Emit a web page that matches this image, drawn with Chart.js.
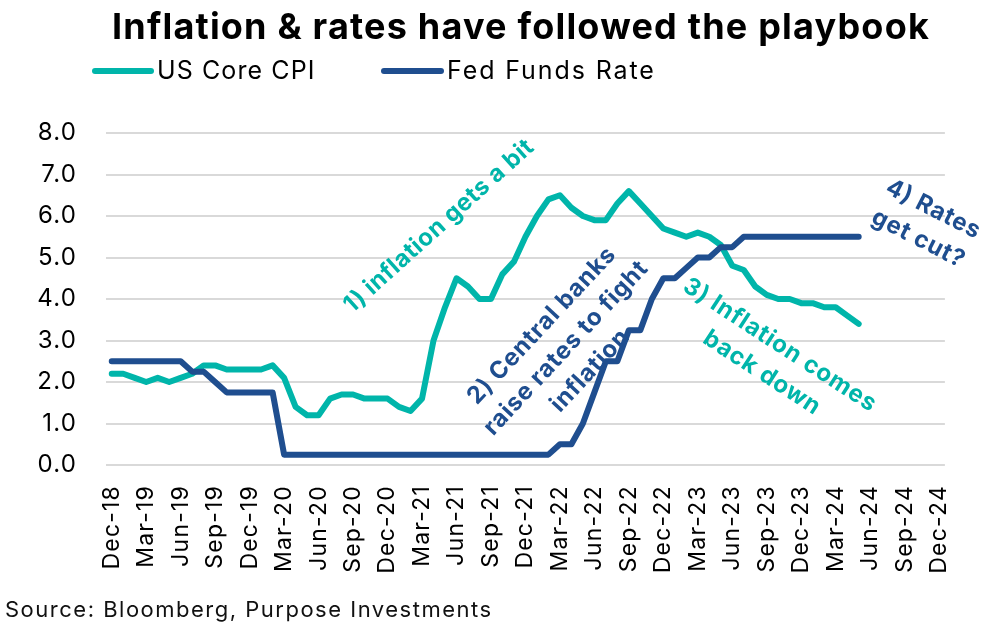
<!DOCTYPE html>
<html>
<head>
<meta charset="utf-8">
<style>html,body{margin:0;padding:0;background:#fff}canvas{display:block}</style>
<script src="https://cdn.jsdelivr.net/npm/chart.js@4"></script>
</head>
<body>
<canvas id="c" width="987" height="625"></canvas>
<script>
const categories = [
"Dec-18","Jan-19","Feb-19","Mar-19","Apr-19","May-19","Jun-19","Jul-19","Aug-19","Sep-19","Oct-19","Nov-19",
"Dec-19","Jan-20","Feb-20","Mar-20","Apr-20","May-20","Jun-20","Jul-20","Aug-20","Sep-20","Oct-20","Nov-20",
"Dec-20","Jan-21","Feb-21","Mar-21","Apr-21","May-21","Jun-21","Jul-21","Aug-21","Sep-21","Oct-21","Nov-21",
"Dec-21","Jan-22","Feb-22","Mar-22","Apr-22","May-22","Jun-22","Jul-22","Aug-22","Sep-22","Oct-22","Nov-22",
"Dec-22","Jan-23","Feb-23","Mar-23","Apr-23","May-23","Jun-23","Jul-23","Aug-23","Sep-23","Oct-23","Nov-23",
"Dec-23","Jan-24","Feb-24","Mar-24","Apr-24","May-24","Jun-24","Jul-24","Aug-24","Sep-24","Oct-24","Nov-24",
"Dec-24"];
const coreCpi = [
2.2,2.2,2.1,2.0,2.1,2.0,2.1,2.2,2.4,2.4,2.3,2.3,
2.3,2.3,2.4,2.1,1.4,1.2,1.2,1.6,1.7,1.7,1.6,1.6,
1.6,1.4,1.3,1.6,3.0,3.8,4.5,4.3,4.0,4.0,4.6,4.9,
5.5,6.0,6.4,6.5,6.2,6.0,5.9,5.9,6.3,6.6,6.3,6.0,
5.7,5.6,5.5,5.6,5.5,5.3,4.8,4.7,4.3,4.1,4.0,4.0,
3.9,3.9,3.8,3.8,3.6,3.4];
const fedFunds = [
2.5,2.5,2.5,2.5,2.5,2.5,2.5,2.25,2.25,2.0,1.75,1.75,
1.75,1.75,1.75,0.25,0.25,0.25,0.25,0.25,0.25,0.25,0.25,0.25,
0.25,0.25,0.25,0.25,0.25,0.25,0.25,0.25,0.25,0.25,0.25,0.25,
0.25,0.25,0.25,0.5,0.5,1.0,1.75,2.5,2.5,3.25,3.25,4.0,
4.5,4.5,4.75,5.0,5.0,5.25,5.25,5.5,5.5,5.5,5.5,5.5,
5.5,5.5,5.5,5.5,5.5,5.5];
const TEAL = "#00B5AA", NAVY = "#1F4E8F", FONT = "Inter, 'Open Sans', sans-serif";

const overlay = {
  id: "overlay",
  afterLayout(chart) { chart.titleBlock.left = 0; chart.titleBlock.right = 1042; },
  beforeDraw(chart) { chart.ctx.letterSpacing = "1.2px"; },
  afterDraw(chart) {
    const ctx = chart.ctx;
    ctx.save();
    // legend
    const legend = [[92,154,157,"1.1px"],[381,444,447,"1.9px"]];
    chart.data.datasets.forEach((d, i) => {
      const [a,b,t,sp] = legend[i];
      ctx.strokeStyle = d.borderColor; ctx.lineWidth = 6; ctx.lineCap = "round";
      ctx.beginPath(); ctx.moveTo(a+3,71); ctx.lineTo(b-3,71); ctx.stroke();
      ctx.fillStyle = "#000"; ctx.font = "25px " + FONT; ctx.letterSpacing = sp;
      ctx.textAlign = "left"; ctx.textBaseline = "middle";
      ctx.fillText(d.label, t, 71);
    });
    // annotations
    const notes = [
      [["1) inflation gets a bit"],439,226,-42,TEAL,"0.5px"],
      [["2) Central banks","raise rates to fight","inflation"],566,348,-47,NAVY,"0.8px"],
      [["3) Inflation comes","back down"],771,359,33,TEAL,"0.8px"],
      [["4) Rates","get cut?"],926,224,27,NAVY,"0.8px"]
    ];
    notes.forEach(([lines,x,y,ang,col,sp]) => {
      ctx.save();
      ctx.translate(x,y); ctx.rotate(ang*Math.PI/180);
      ctx.font = "bold 24px " + FONT; ctx.fillStyle = col; ctx.letterSpacing = sp;
      ctx.textAlign = "center"; ctx.textBaseline = "middle";
      const lh = 33;
      lines.forEach((l,i) => ctx.fillText(l,0,(i-(lines.length-1)/2)*lh));
      ctx.restore();
    });
    // source
    ctx.fillStyle = "#111"; ctx.font = "22px " + FONT; ctx.letterSpacing = "1.5px";
    ctx.textAlign = "left"; ctx.textBaseline = "middle";
    ctx.fillText("Source: Bloomberg, Purpose Investments", 5, 610);
    ctx.restore();
  }
};

new Chart(document.getElementById("c"), {
  type: "line",
  data: {
    labels: categories,
    datasets: [
      {label:"US Core CPI", data:coreCpi, borderColor:TEAL, backgroundColor:TEAL, borderWidth:6, pointRadius:0,
       borderCapStyle:"round", borderJoinStyle:"round", tension:0, order:2},
      {label:"Fed Funds Rate", data:fedFunds, borderColor:NAVY, backgroundColor:NAVY, borderWidth:6, pointRadius:0,
       borderCapStyle:"round", borderJoinStyle:"round", tension:0, order:1}
    ]
  },
  options: {
    responsive:false, animation:false,
    layout:{padding:{left:0,right:39,top:0,bottom:0}},
    plugins:{
      legend:{display:false}, tooltip:{enabled:false},
      title:{display:true, text:"Inflation & rates have followed the playbook", color:"#000",
        font:{family:FONT,size:36,weight:"bold"}, align:"center", padding:{top:7,bottom:82.8}}
    },
    scales:{
      x:{offset:true, border:{display:false}, grid:{display:false,drawTicks:false},
        afterFit(s){s.height=160;},
        ticks:{autoSkip:false,minRotation:90,maxRotation:90,padding:20,color:"#000",
          font:{family:FONT,size:23},
          callback(v,i){return i%3===0?this.getLabelForValue(v):"";}}},
      y:{min:0,max:8, border:{display:false}, grid:{color:"#D9D9D9",lineWidth:2,drawTicks:false},
        afterFit(s){s.width=106;},
        ticks:{stepSize:1,padding:29,color:"#000",font:{family:FONT,size:24},
          callback(v){return v.toFixed(1);}}}
    }
  },
  plugins:[overlay]
});
</script>
</body>
</html>
